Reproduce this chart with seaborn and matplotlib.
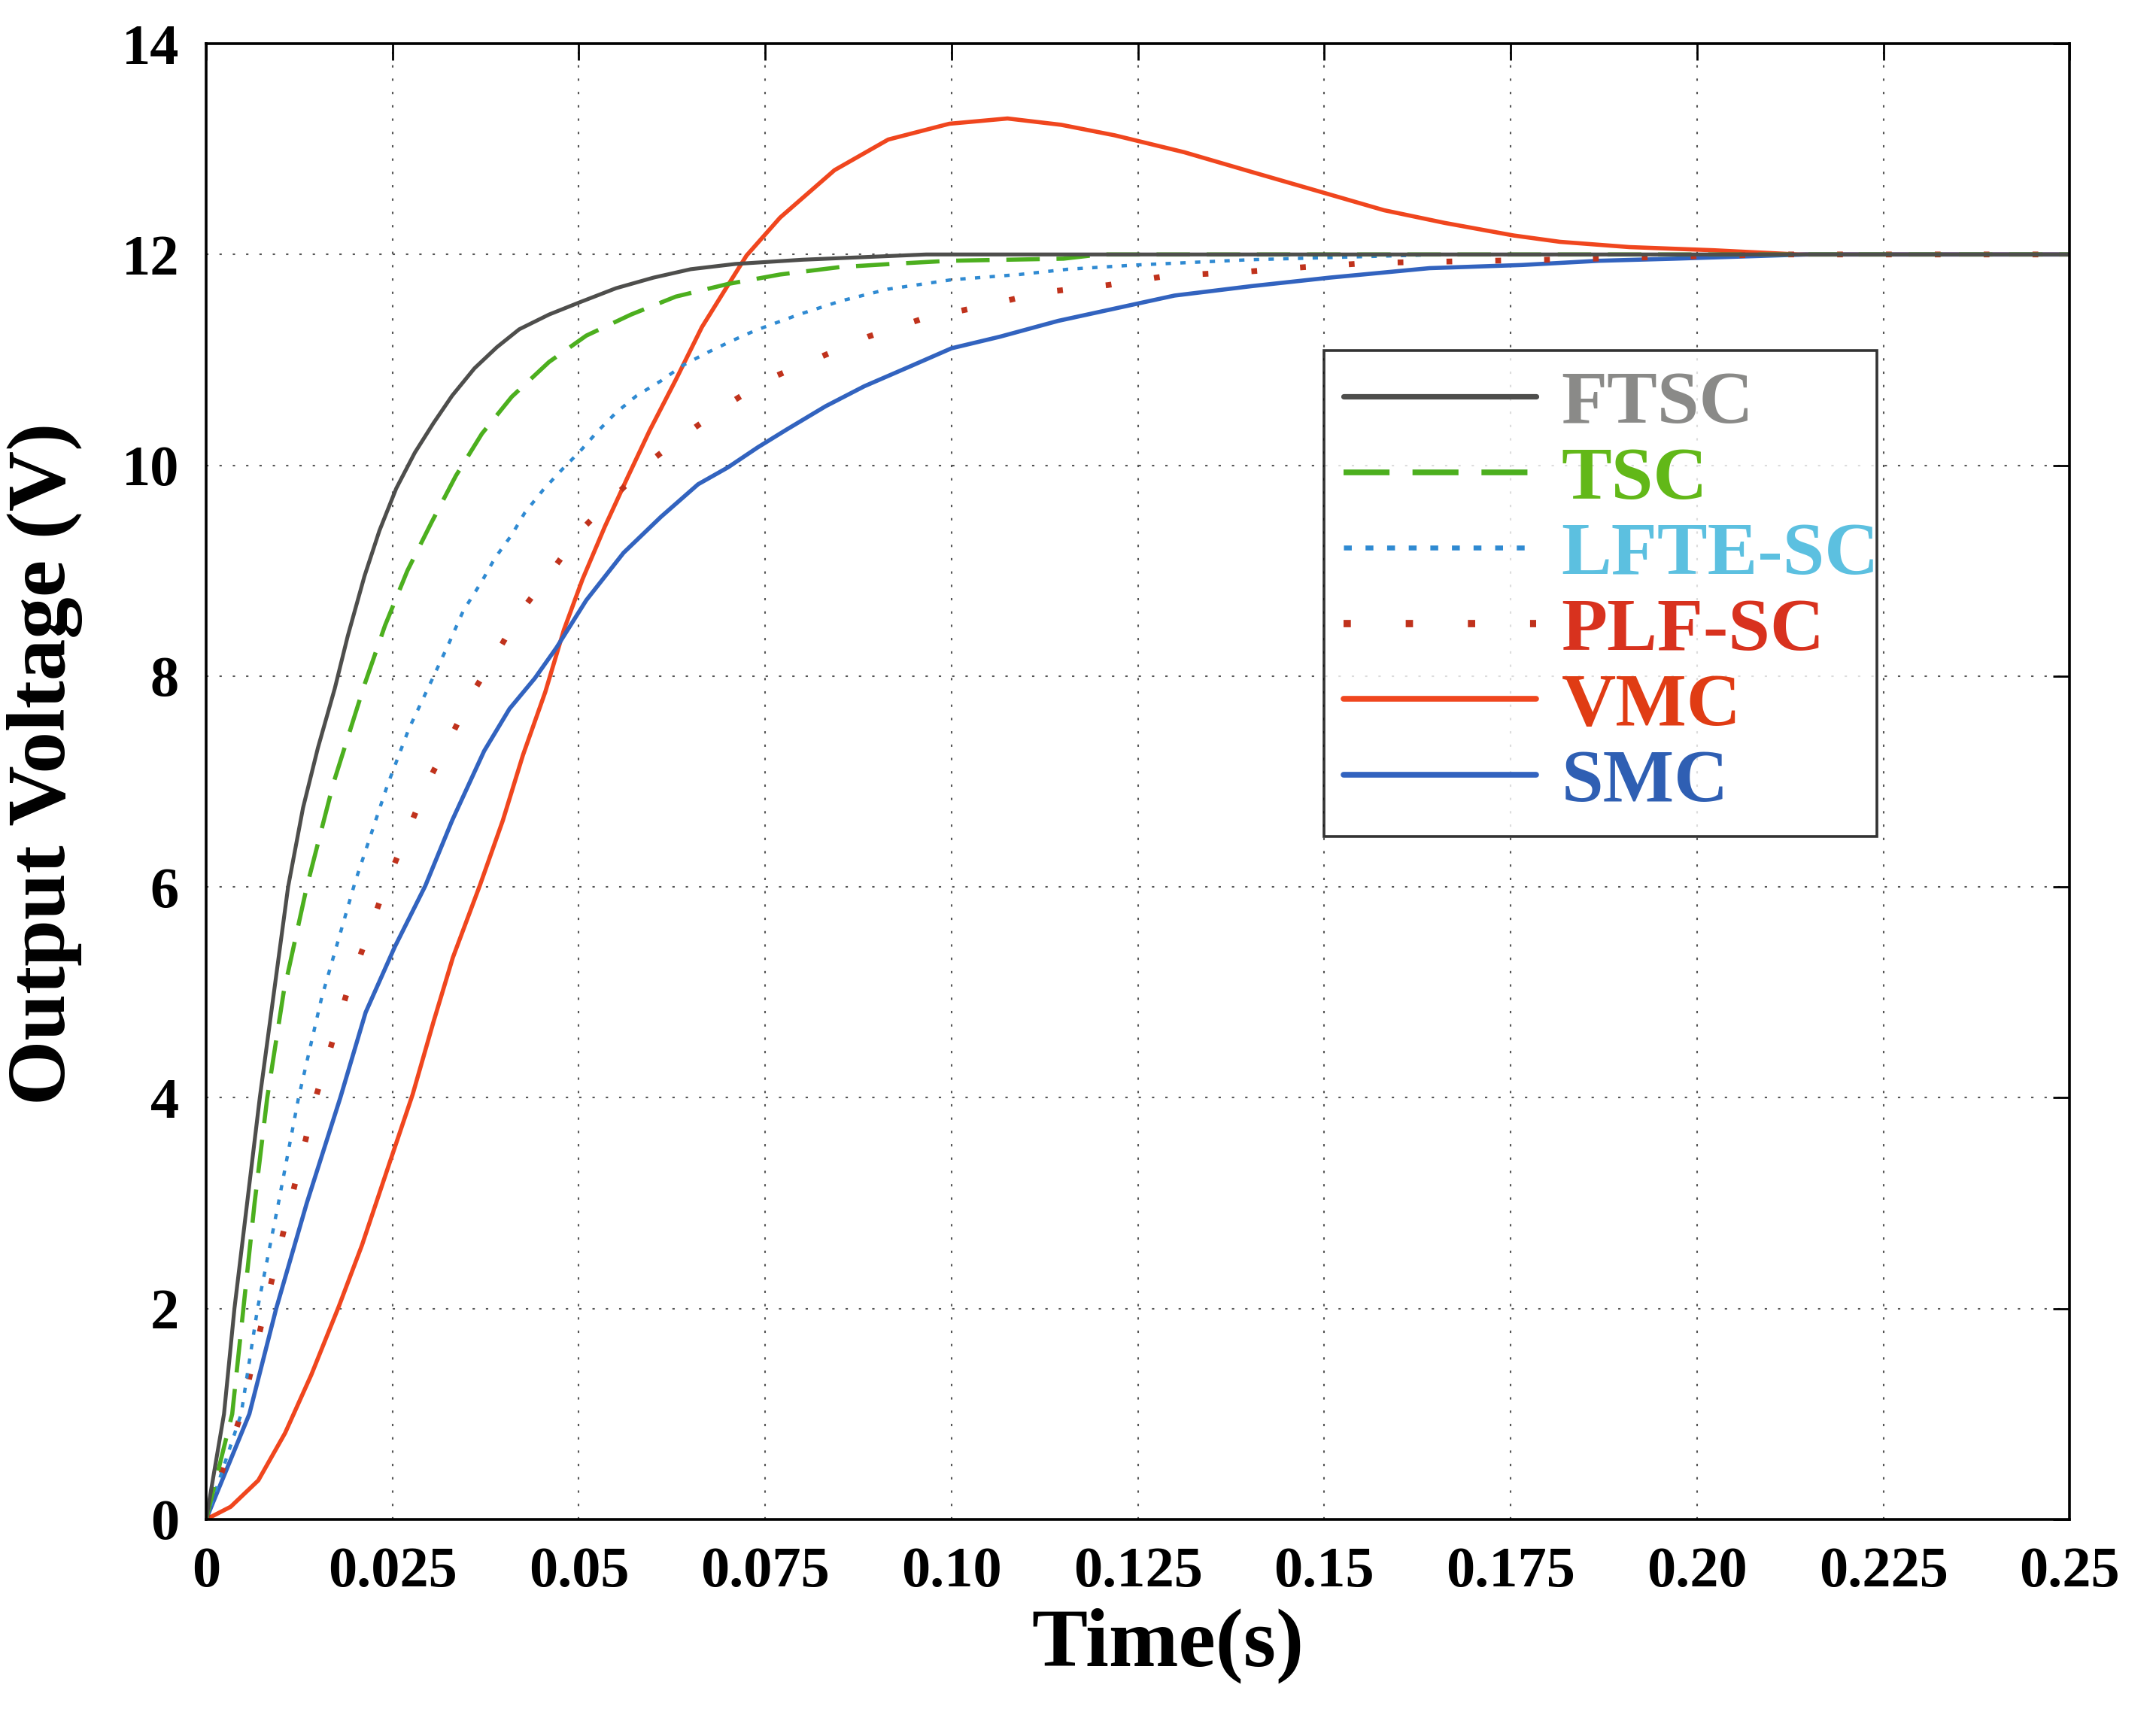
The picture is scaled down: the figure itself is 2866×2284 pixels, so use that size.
import numpy as np
import pandas as pd
import matplotlib
matplotlib.use("Agg")
import matplotlib.pyplot as plt
import seaborn as sns
from matplotlib.lines import Line2D

# ---------------- data ----------------
ftsc_t = [0, 0.0024, 0.0038, 0.0055, 0.0072, 0.0091, 0.0110, 0.0130, 0.0150, 0.01725, 0.0190,
          0.02125, 0.02325, 0.0255, 0.0280, 0.0305, 0.0330, 0.0360, 0.0390, 0.0420, 0.0460,
          0.05025, 0.0550, 0.0600, 0.0650, 0.0710, 0.0800, 0.0966, 0.25]
ftsc_v = [0, 1.0, 2.0, 3.0, 4.0, 5.0, 6.0, 6.75, 7.32, 7.88, 8.38,
          8.95, 9.38, 9.78, 10.12, 10.4, 10.66, 10.92, 11.12, 11.29, 11.43,
          11.55, 11.68, 11.78, 11.86, 11.91, 11.95, 12.0, 12.0]

tsc_t = [0, 0.0035, 0.0050, 0.0065, 0.0082, 0.0104, 0.0135, 0.0171, 0.02125, 0.0240, 0.0270,
         0.03025, 0.0335, 0.0370, 0.0410, 0.0460, 0.0510, 0.0570, 0.0630, 0.0700, 0.0770,
         0.0850, 0.0919, 0.0997, 0.1150, 0.1200, 0.25]
tsc_v = [0, 1.0, 2.0, 3.0, 4.0, 5.0, 6.0, 6.99, 7.92, 8.48, 9.0,
         9.46, 9.9, 10.3, 10.65, 10.98, 11.23, 11.43, 11.6, 11.72, 11.81,
         11.88, 11.91, 11.94, 11.96, 12.0, 12.0]

lfte_t = [0, 0.0047, 0.0069, 0.0097, 0.0124, 0.0155, 0.0200, 0.0243, 0.0272, 0.0300, 0.0325,
          0.0345, 0.0370, 0.03875, 0.0410, 0.04275, 0.04525, 0.04775, 0.05025, 0.0525, 0.0550,
          0.05775, 0.0610, 0.0640, 0.06725, 0.0705, 0.0737, 0.0795, 0.0852, 0.0914, 0.1000,
          0.1091, 0.1156, 0.1247, 0.1400, 0.1660, 0.25]
lfte_v = [0, 1.0, 2.0, 3.0, 4.0, 4.95, 6.05, 6.96, 7.5, 7.92, 8.3,
          8.62, 8.9, 9.12, 9.34, 9.55, 9.77, 9.96, 10.14, 10.32, 10.5,
          10.66, 10.8, 10.95, 11.07, 11.18, 11.28, 11.43, 11.56, 11.67, 11.76,
          11.81, 11.86, 11.9, 11.95, 12.0, 12.0]

plf_t = [0, 0.0047, 0.0079, 0.0113, 0.0147, 0.0189, 0.0240, 0.0298, 0.0360, 0.03925, 0.0424,
         0.0465, 0.0505, 0.0550, 0.0596, 0.0646, 0.0700, 0.0755, 0.0825, 0.0888, 0.0961,
         0.1042, 0.1122, 0.1210, 0.1292, 0.1384, 0.1474, 0.1563, 0.1800, 0.2100, 0.25]
plf_v = [0, 1.0, 2.0, 3.0, 4.0, 5.0, 6.0, 7.0, 7.87, 8.25, 8.63,
         9.01, 9.4, 9.72, 10.04, 10.31, 10.58, 10.82, 11.03, 11.22, 11.39,
         11.51, 11.64, 11.71, 11.8, 11.83, 11.88, 11.92, 11.95, 12.0, 12.0]

vmc_t = [0, 0.0033, 0.0070, 0.0106, 0.0141, 0.0178, 0.0209, 0.0246, 0.0277, 0.0305, 0.0331,
         0.0367, 0.0398, 0.0425, 0.0455, 0.0480, 0.0505, 0.0535, 0.0565, 0.0595, 0.0630,
         0.0665, 0.06975, 0.0725, 0.0770, 0.0843, 0.0915, 0.0997, 0.1075, 0.1147, 0.1219,
         0.1312, 0.1404, 0.1497, 0.1580, 0.1661, 0.1754, 0.1816, 0.1909, 0.2022, 0.2136, 0.25]
vmc_v = [0, 0.12, 0.37, 0.82, 1.37, 2.02, 2.6, 3.38, 4.03, 4.72, 5.33,
         6.01, 6.63, 7.25, 7.85, 8.44, 8.92, 9.42, 9.88, 10.33, 10.81,
         11.31, 11.68, 11.99, 12.35, 12.8, 13.09, 13.24, 13.29, 13.23, 13.13,
         12.97, 12.78, 12.59, 12.42, 12.3, 12.18, 12.12, 12.07, 12.04, 12.0, 12.0]

smc_t = [0, 0.0058, 0.0094, 0.0135, 0.0180, 0.0214, 0.0253, 0.0294, 0.0330, 0.0373, 0.0407,
         0.0441, 0.0470, 0.0510, 0.0560, 0.0610, 0.0660, 0.0700, 0.0740, 0.0779, 0.0831,
         0.0883, 0.0945, 0.1000, 0.1065, 0.1143, 0.1221, 0.1299, 0.1403, 0.1507, 0.1641,
         0.1765, 0.1868, 0.1970, 0.2146, 0.25]
smc_v = [0, 1.0, 2.0, 3.0, 4.0, 4.81, 5.43, 6.01, 6.63, 7.29, 7.69,
         7.98, 8.27, 8.72, 9.17, 9.51, 9.82, 9.98, 10.17, 10.34, 10.56,
         10.75, 10.94, 11.11, 11.22, 11.37, 11.49, 11.61, 11.7, 11.78, 11.87,
         11.9, 11.94, 11.96, 12.0, 12.0]

labels = ["FTSC", "TSC", "LFTE-SC", "PLF-SC", "VMC", "SMC"]
x_ticks = [0, 0.025, 0.05, 0.075, 0.10, 0.125, 0.15, 0.175, 0.20, 0.225, 0.25]
x_tick_labels = ["0", "0.025", "0.05", "0.075", "0.10", "0.125", "0.15", "0.175", "0.20", "0.225", "0.25"]
y_ticks = [0, 2, 4, 6, 8, 10, 12, 14]

# ---------------- style ----------------
sns.set_theme(style="white")
plt.rcParams["font.family"] = ["Liberation Serif", "DejaVu Serif"]
plt.rcParams["font.weight"] = "bold"

line_colors = {"FTSC": "#4e4e4c", "TSC": "#4caf1e", "LFTE-SC": "#2f8ad2",
               "PLF-SC": "#c0321c", "VMC": "#f0461e", "SMC": "#3263bf"}
text_colors = {"FTSC": "#8a8a88", "TSC": "#62b818", "LFTE-SC": "#5cc0e0",
               "PLF-SC": "#d8321e", "VMC": "#e03c14", "SMC": "#2f5fb3"}
styles = {"FTSC": dict(lw=3.7, ls="-"),
          "TSC": dict(lw=4.0, ls=(0, (8, 4))),
          "LFTE-SC": dict(lw=3.2, ls=(0, (1.6, 2.8))),
          "PLF-SC": dict(lw=5.5, ls=(0, (1.0, 7.5))),
          "VMC": dict(lw=4.0, ls="-"),
          "SMC": dict(lw=4.0, ls="-")}

series = {"FTSC": (ftsc_t, ftsc_v), "TSC": (tsc_t, tsc_v), "LFTE-SC": (lfte_t, lfte_v),
          "PLF-SC": (plf_t, plf_v), "VMC": (vmc_t, vmc_v), "SMC": (smc_t, smc_v)}

fig = plt.figure(figsize=(28.66, 22.84), dpi=100)
ax = fig.add_axes([0.0956, 0.1156, 0.8644, 0.859])

draw_order = ["VMC", "SMC", "PLF-SC", "LFTE-SC", "TSC", "FTSC"]
for name in draw_order:
    t, v = series[name]
    df = pd.DataFrame({"t": t, "v": v})
    sns.lineplot(data=df, x="t", y="v", ax=ax, color=line_colors[name],
                 linewidth=styles[name]["lw"], linestyle=styles[name]["ls"],
                 errorbar=None, sort=False, legend=False)

ax.set_xlim(0, 0.25)
ax.set_ylim(0, 14)
ax.set_xticks(x_ticks)
ax.set_xticklabels(x_tick_labels)
ax.set_yticks(y_ticks)
ax.grid(True, color="#555555", linestyle=(0, (1.5, 7)), linewidth=1.5)
ax.set_axisbelow(True)
for sp in ax.spines.values():
    sp.set_visible(True)
    sp.set_color("black")
    sp.set_linewidth(2.6)
ax.tick_params(direction="in", length=16, width=2, top=True, right=True,
               labelsize=55, pad=26, colors="black")
for lab in ax.get_xticklabels() + ax.get_yticklabels():
    lab.set_fontweight("bold")

ax.set_xlabel("Time(s)", fontsize=80, fontweight="bold", color="black")
ax.set_ylabel("Output Voltage (V)", fontsize=80, fontweight="bold", color="black")
ax.xaxis.set_label_coords(0.516, -0.060)
ax.yaxis.set_label_coords(-0.066, 0.512)

handles = [Line2D([0], [0], color=line_colors[n], linewidth=styles[n]["lw"] + 1.5,
                  linestyle=styles[n]["ls"]) for n in labels]
leg = ax.legend(handles, labels, loc="upper left",
                bbox_to_anchor=(0.600, 0.4659, 0.2967, 0.3261), mode="expand",
                borderaxespad=0, handlelength=2.56, handletextpad=0.33,
                labelspacing=0.095, borderpad=0.26, frameon=True, fancybox=False,
                prop={"family": "Liberation Serif", "weight": "bold", "size": 72})
leg.get_frame().set_edgecolor("black")
leg.get_frame().set_linewidth(2.6)
for txt, n in zip(leg.get_texts(), labels):
    txt.set_color(text_colors[n])

fig.savefig("out.png", dpi=100, facecolor="white")
